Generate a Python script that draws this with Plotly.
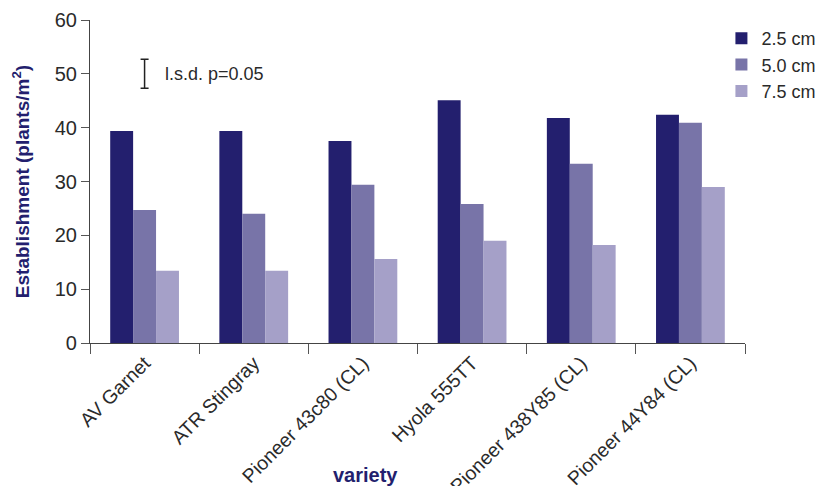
import plotly.graph_objects as go

varieties = ["AV Garnet", "ATR Stingray", "Pioneer 43c80 (CL)", "Hyola 555TT",
             "Pioneer 438Y85 (CL)", "Pioneer 44Y84 (CL)"]
depth_25 = [39.4, 39.4, 37.5, 45.1, 41.8, 42.4]
depth_50 = [24.7, 24.0, 29.4, 25.8, 33.3, 40.9]
depth_75 = [13.4, 13.4, 15.6, 19.0, 18.2, 29.0]
series_names = ["2.5 cm", "5.0 cm", "7.5 cm"]
series_colors = ["#231F6E", "#7874A8", "#A5A0C8"]
lsd_value = 5.4
lsd_center = 50

FONT = "Liberation Sans, Arial, sans-serif"
TXT = "#2a2a2a"
NAVY = "#231F6E"

fig = go.Figure()
for name, vals, col in zip(series_names, [depth_25, depth_50, depth_75], series_colors):
    fig.add_trace(go.Bar(x=varieties, y=vals, name=name, marker_color=col,
                         marker_line_width=0))

# l.s.d. bar
fig.add_trace(go.Scatter(
    x=[varieties[0]], y=[lsd_center], mode="markers",
    marker=dict(size=1, color="rgba(0,0,0,0)"),
    error_y=dict(type="data", array=[lsd_value / 2], visible=True,
                 color="#222", thickness=1.5, width=4),
    showlegend=False, hoverinfo="skip"))

fig.add_annotation(x=varieties[0], y=lsd_center, text="l.s.d. p=0.05",
                   showarrow=False, xanchor="left", yanchor="middle", xshift=18,
                   font=dict(family=FONT, size=18, color=TXT))

fig.add_annotation(x=0.42, xref="paper", y=-0.41, yref="paper", text="<b>variety</b>",
                   showarrow=False, xanchor="center", yanchor="middle",
                   font=dict(family=FONT, size=20, color=NAVY))

fig.update_layout(
    width=830, height=486,
    margin=dict(l=82, r=93, t=12, b=151),
    paper_bgcolor="white", plot_bgcolor="white",
    barmode="group", bargap=0.37, bargroupgap=0,
    font=dict(family=FONT, size=18, color=TXT),
    legend=dict(x=0.964, y=1.0, xanchor="left", yanchor="top",
                font=dict(family=FONT, size=18, color=TXT),
                itemwidth=30, tracegroupgap=0, bgcolor="rgba(0,0,0,0)"),
    showlegend=True,
)
fig.update_xaxes(
    type="category", tickangle=-45, tickson="boundaries",
    ticks="outside", ticklen=10, tickcolor="#555", showline=True,
    linecolor="#444", linewidth=1.2, showgrid=False,
    tickfont=dict(family=FONT, size=19.5, color=TXT), automargin=False,
)
fig.update_yaxes(
    range=[0, 60], dtick=10, ticks="outside", ticklen=8, tickcolor="#555",
    showline=True, linecolor="#444", linewidth=1.2, showgrid=False, zeroline=False,
    tickfont=dict(family=FONT, size=20, color=TXT),
    title=dict(text="<b>Establishment (plants/m<sup>2</sup>)</b>", standoff=20,
               font=dict(family=FONT, size=19, color=NAVY)),
    automargin=False,
)

fig.write_html("out.html")
